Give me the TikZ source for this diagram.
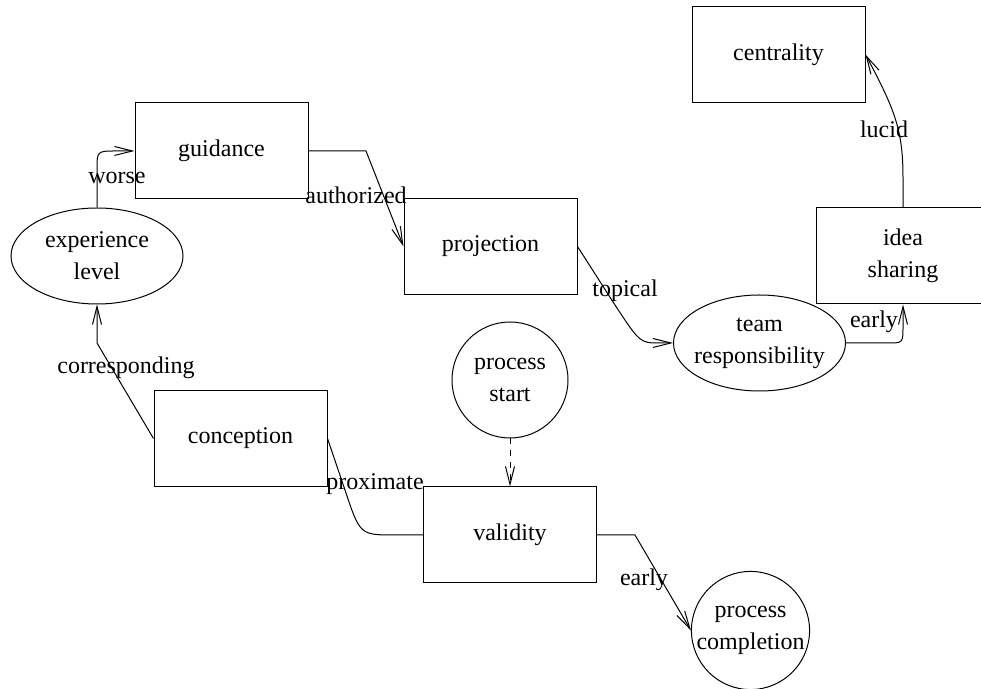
\documentclass[tikz,border=0pt]{standalone}
\usepackage{fontspec}
\setmainfont{Liberation Serif}
\usetikzlibrary{shapes.geometric,arrows.meta}

\begin{document}
\begin{tikzpicture}[x=0.5pt,y=-0.5pt,
    every node/.style={font=\fontsize{12}{16}\selectfont,align=center},
    box/.style={draw,minimum width=86.5pt,minimum height=48pt,inner sep=0pt},
    oval/.style={draw,ellipse,minimum width=86pt,minimum height=48pt,inner xsep=-3pt,inner ysep=0pt},
    round/.style={draw,circle,minimum size=58pt,inner sep=0pt},
    lbl/.style={inner sep=0pt},
    >={Straight Barb[length=9pt,width=4.5pt]},
    line width=0.5pt]
  \useasboundingbox (0,0) rectangle (981,689);

  \node[box] (centrality) at (778.5,54.5) {centrality};
  \node[box] (guidance) at (221.5,151) {guidance};
  \node[box] (projection) at (490.5,246.5) {projection};
  \node[box] (idea) at (903,256) {idea\\sharing};
  \node[box] (conception) at (240.5,438.5) {conception};
  \node[box] (validity) at (510,535) {validity};

  \node[oval] (experience) at (97,256) {experience\\level};
  \node[oval] (team) at (759.5,343) {team\\responsibility};

  \node[round] (start) at (510,380) {process\\start};
  \node[round] (completion) at (750.5,630.5) {process\\completion};

  \draw[->] (conception.west) -- (97,343) -- (experience.south)
    node[lbl] at (126,368) {corresponding};
  \draw[->] (experience.north) -- (97,170) .. controls (97,151) .. (116,151) -- (guidance.west)
    node[lbl] at (117,178) {worse};
  \draw[->] (guidance.east) -- (366,151) -- (projection.west)
    node[lbl] at (356,195) {authorized};
  \draw[->] (projection.east) -- (615,305) .. controls (640,343) .. (660,343) -- (team.west)
    node[lbl] at (625,291) {topical};
  \draw[->] (team.east) -- (888,343) .. controls (903,343) .. (903,326) -- (idea.south)
    node[lbl] at (874,322) {early};
  \draw[->] (idea.north) -- (903,178) .. controls (903,130) and (895,110) .. (centrality.east)
    node[lbl] at (884,129) {lucid};
  \draw[->,dashed] (start.south) -- (validity.north);
  \draw (conception.east) -- (345,490) .. controls (360,535) .. (395,535) -- (validity.west)
    node[lbl] at (375,484) {proximate};
  \draw[->] (validity.east) -- (635,535) -- (completion.west)
    node[lbl] at (644,580) {early};
\end{tikzpicture}
\end{document}
